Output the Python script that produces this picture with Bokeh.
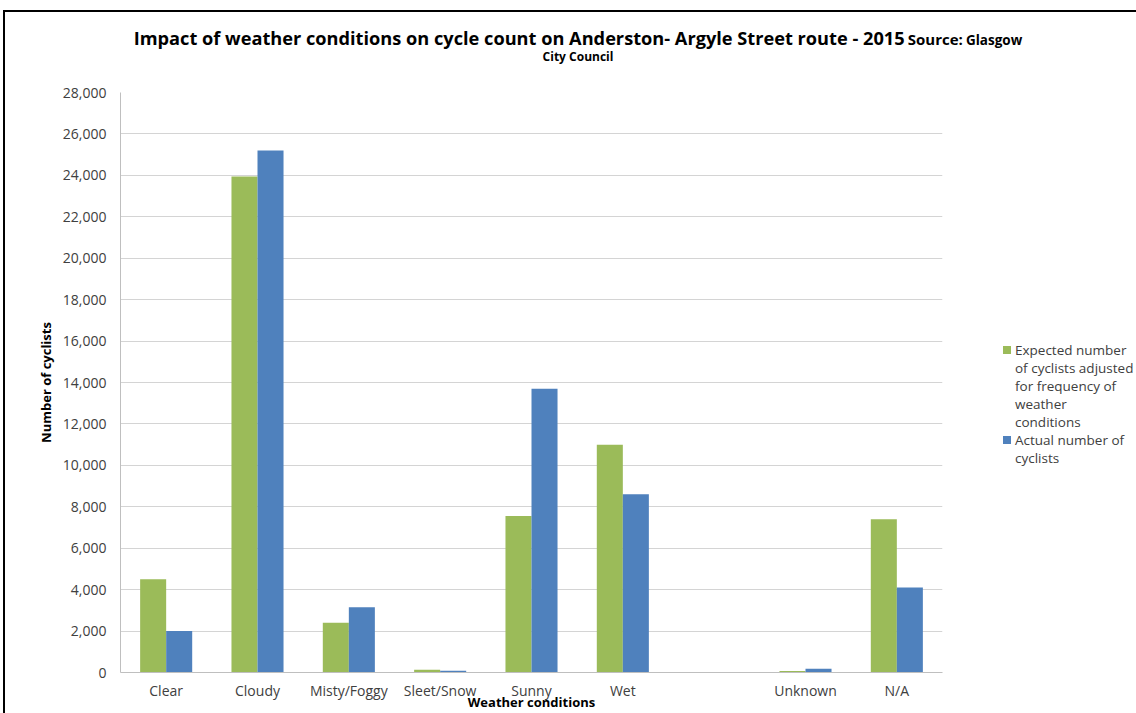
from bokeh.plotting import figure
from bokeh.models import (ColumnDataSource, FactorRange, NumeralTickFormatter, Div,
                          FixedTicker, InlineStyleSheet)
from bokeh.layouts import column, row
from bokeh.transform import dodge
from bokeh.embed import file_html
from bokeh.resources import INLINE

categories = ["Clear", "Cloudy", "Misty/Foggy", "Sleet/Snow", "Sunny", "Wet", " ", "Unknown", "N/A"]
expected = [4500, 23950, 2400, 130, 7550, 11000, 0, 70, 7400]
actual = [2000, 25200, 3150, 90, 13700, 8600, 0, 180, 4100]
y_ticks = list(range(0, 28001, 2000))

title_main = "Impact of weather conditions on cycle count on Anderston- Argyle Street route - 2015"
title_source = ["Source:", "Glasgow"]
title_line2 = "City Council"
legend_expected = ["Expected number", "of cyclists adjusted", "for frequency of", "weather", "conditions"]
legend_actual = ["Actual number of", "cyclists"]

GREEN = "#9BBB59"
BLUE = "#4F81BD"
FONT = "Open Sans"

src = ColumnDataSource(dict(cat=categories, expected=expected, actual=actual))

p = figure(x_range=FactorRange(factors=categories, range_padding=0),
           y_range=(0, 28000), width=1000, height=629,
           output_backend="svg", toolbar_location=None,
           min_border_left=120, min_border_right=58, min_border_top=8, min_border_bottom=41)

p.vbar(x=dodge("cat", -0.1425, range=p.x_range), top="expected", width=0.285,
       source=src, fill_color=GREEN, line_color=None)
p.vbar(x=dodge("cat", 0.1425, range=p.x_range), top="actual", width=0.285,
       source=src, fill_color=BLUE, line_color=None)

p.outline_line_color = None
p.xgrid.grid_line_color = None
p.ygrid.grid_line_color = "#D4D4D4"
p.ygrid.ticker = FixedTicker(ticks=y_ticks)

p.yaxis.ticker = FixedTicker(ticks=y_ticks)
p.yaxis.formatter = NumeralTickFormatter(format="0,0")
p.yaxis.axis_line_color = "#BFBFBF"
p.yaxis.major_tick_line_color = None
p.yaxis.major_tick_out = 0
p.yaxis.major_tick_in = 0
p.yaxis.minor_tick_line_color = None
p.yaxis.minor_tick_out = 0
p.yaxis.major_label_text_font = FONT
p.yaxis.major_label_text_font_size = "14px"
p.yaxis.major_label_text_color = "#404040"
p.yaxis.major_label_standoff = 14
p.yaxis.axis_label = "Number of cyclists"
p.yaxis.axis_label_text_font = FONT
p.yaxis.axis_label_text_font_style = "bold"
p.yaxis.axis_label_text_font_size = "13px"
p.yaxis.axis_label_text_color = "#000000"
p.yaxis.axis_label_standoff = 5

p.xaxis.axis_line_color = "#BFBFBF"
p.xaxis.major_tick_line_color = None
p.xaxis.major_tick_out = 0
p.xaxis.major_tick_in = 0
p.xaxis.minor_tick_line_color = None
p.xaxis.minor_tick_out = 0
p.xaxis.major_label_text_font = FONT
p.xaxis.major_label_text_font_size = "14px"
p.xaxis.major_label_text_color = "#404040"
p.xaxis.major_label_standoff = 8
p.xaxis.axis_label = "Weather conditions"
p.xaxis.axis_label_text_font = FONT
p.xaxis.axis_label_text_font_style = "bold"
p.xaxis.axis_label_text_font_size = "13px"
p.xaxis.axis_label_text_color = "#000000"
p.xaxis.axis_label_standoff = -10

# Header with the two-line, mixed-size title
title_html = f"""
<div style="position:relative;width:1136px;height:84px;font-family:'Open Sans';font-weight:bold;color:#000;">
  <div style="position:absolute;left:20px;width:1116px;top:27px;text-align:center;line-height:22px;white-space:nowrap;">
    <span style="font-size:18.2px;">{title_main}</span> <span style="font-size:15px;">{title_source[0]}</span> <span style="font-size:13.5px;">{title_source[1]}</span>
  </div>
  <div style="position:absolute;left:20px;width:1116px;top:49px;text-align:center;line-height:16px;font-size:12px;">{title_line2}</div>
</div>
"""
header = Div(text=title_html, width=1136, height=84, margin=0)

# Legend (wrapped labels, marker aligned with the first line)
def legend_entry(color, lines):
    body = "<br>".join(lines)
    return (f'<div style="position:relative;padding-left:15px;">'
            f'<span style="position:absolute;left:3px;top:5px;width:8px;height:8px;background:{color};"></span>'
            f'{body}</div>')

legend_html = (
    '<div style="position:relative;width:136px;height:629px;">'
    '<div style="position:absolute;left:0;top:257px;font-family:\'Open Sans\';font-size:13.5px;'
    'line-height:18px;color:#404040;white-space:nowrap;">'
    + legend_entry(GREEN, legend_expected)
    + legend_entry(BLUE, legend_actual)
    + '</div></div>'
)
legend_div = Div(text=legend_html, width=136, height=629, margin=0)

layout = column(header, row(p, legend_div, spacing=0), spacing=0)
layout.stylesheets = [InlineStyleSheet(css=":host { position: relative; } :host::after { content: ''; position: absolute; left: 3px; top: 10px; right: 0; bottom: 0; border-left: 2px solid #000; border-top: 2px solid #000; pointer-events: none; }")]

open("out.html", "w").write(file_html(layout, INLINE))
